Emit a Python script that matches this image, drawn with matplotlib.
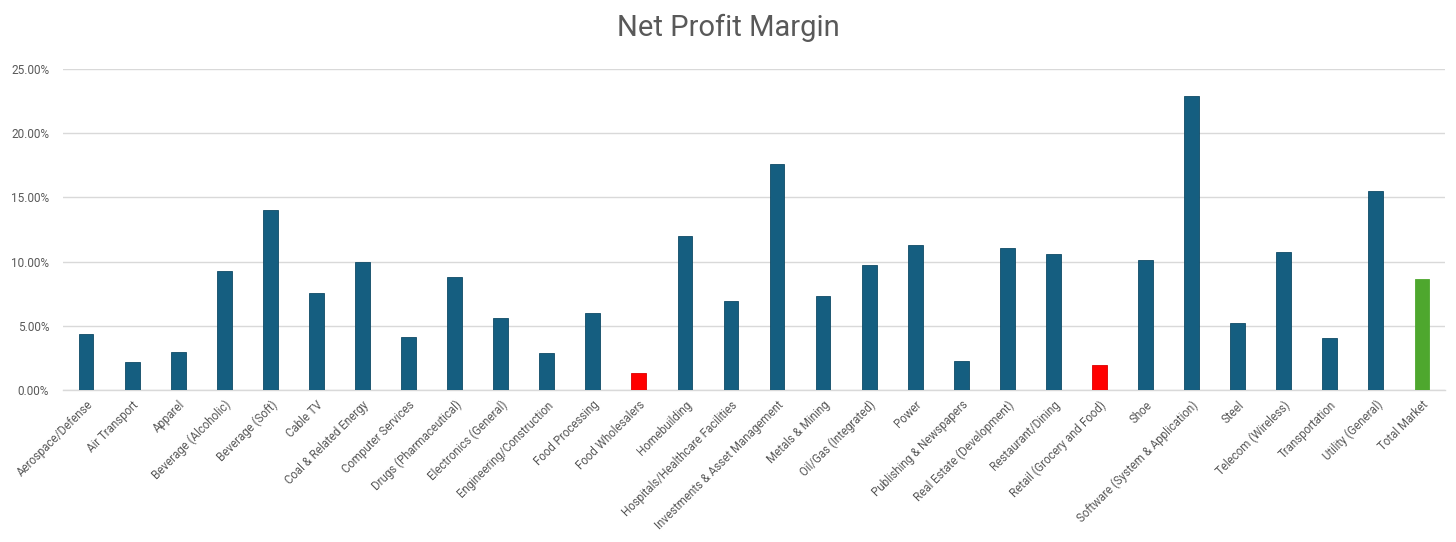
import numpy as np
import matplotlib
matplotlib.use("Agg")
from matplotlib import pyplot as plt
from matplotlib.ticker import PercentFormatter

industries = [
    "Aerospace/Defense", "Air Transport", "Apparel", "Beverage (Alcoholic)",
    "Beverage (Soft)", "Cable TV", "Coal & Related Energy", "Computer Services",
    "Drugs (Pharmaceutical)", "Electronics (General)", "Engineering/Construction",
    "Food Processing", "Food Wholesalers", "Homebuilding",
    "Hospitals/Healthcare Facilities", "Investments & Asset Management",
    "Metals & Mining", "Oil/Gas (Integrated)", "Power", "Publishing & Newspapers",
    "Real Estate (Development)", "Restaurant/Dining", "Retail (Grocery and Food)",
    "Shoe", "Software (System & Application)", "Steel", "Telecom (Wireless)",
    "Transportation", "Utility (General)", "Total Market",
]
margin = [
    4.34, 2.15, 2.96, 9.27, 14.02, 7.53, 9.99, 4.13, 8.83, 5.58,
    2.91, 5.97, 1.32, 11.97, 6.93, 17.60, 7.35, 9.71, 11.29, 2.23,
    11.09, 10.62, 1.97, 10.12, 22.90, 5.22, 10.75, 4.08, 15.47, 8.64,
]

blue, blue_edge = "#155e80", "#0f4a66"
colors = [blue] * len(industries)
edges = [blue_edge] * len(industries)
for name in ["Food Wholesalers", "Retail (Grocery and Food)"]:
    colors[industries.index(name)] = "#ff0000"
    edges[industries.index(name)] = "#d90000"
colors[-1] = "#4ea72e"
edges[-1] = "#4ea72e"

plt.rcParams["font.family"] = ["Roboto", "DejaVu Sans"]
text_col = "#595959"

fig = plt.figure(figsize=(14.56, 5.42), dpi=100)
ax = fig.add_axes([0.0433, 0.2804, 0.9491, 0.5923])

x = np.arange(len(industries))
ax.bar(x, margin, width=0.32, color=colors, edgecolor=edges, linewidth=0.6, zorder=3)

ax.set_xlim(-0.5, len(industries) - 0.5)
ax.set_ylim(0, 25)
ax.set_yticks(np.arange(0, 26, 5))
ax.yaxis.set_major_formatter(PercentFormatter(decimals=2))
ax.grid(axis="y", color="#d9d9d9", linewidth=1, zorder=0)
for s in ["top", "right", "left"]:
    ax.spines[s].set_visible(False)
ax.spines["bottom"].set_color("#d9d9d9")
ax.spines["bottom"].set_linewidth(1)
ax.tick_params(axis="y", length=0, colors=text_col, labelsize=8.5, pad=10)
ax.tick_params(axis="x", length=0, colors=text_col, labelsize=8.3, pad=6)

ax.set_xticks(x)
ax.set_xticklabels(industries, rotation=45, ha="right", rotation_mode="anchor")

fig.suptitle("Net Profit Margin", x=0.5, y=0.975, fontsize=21, color=text_col)

fig.savefig("out.png", dpi=100)
